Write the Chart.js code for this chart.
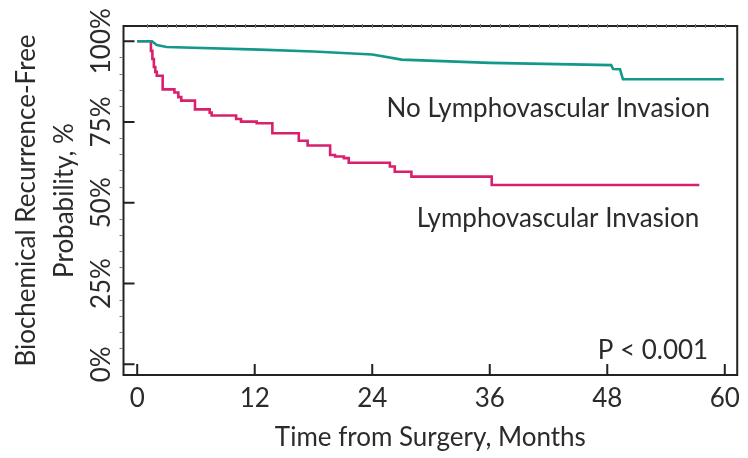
<!DOCTYPE html>
<html lang="en">
<head>
<meta charset="UTF-8">
<title>Biochemical Recurrence-Free Probability</title>
<script src="https://cdn.jsdelivr.net/npm/chart.js"></script>
<style>
  html, body { margin: 0; padding: 0; background: #fff; }
  #wrap { width: 748px; height: 458px; }
</style>
</head>
<body>
<div id="wrap"><canvas id="kmChart" width="748" height="458"></canvas></div>
<script>
// Kaplan-Meier curves, months vs. recurrence-free probability (%)
const noLviMonths = [0, 1.5, 2.0, 3.0, 12.5, 18, 24, 27, 36, 48.4, 48.6, 49.3, 49.6, 59.9];
const noLviSurv   = [100, 100, 98.8, 98.2, 97.4, 96.8, 95.9, 94.3, 93.3, 92.6, 91.4, 91.3, 88.2, 88.2];

const lviMonths = [0, 1.4, 1.55, 1.7, 1.85, 2.0, 2.6, 3.8, 4.2, 4.5, 5.9, 7.4, 7.6, 10.1, 10.6, 12.2,
                   13.8, 16.5, 17.4, 19.7, 20.2, 21.1, 21.6, 25.8, 26.3, 28.0, 36.2, 57.4];
const lviSurv   = [100, 97, 94.5, 92, 90.5, 89.3, 85.1, 84.1, 82.7, 81.6, 78.9, 77.9, 77.0, 75.9, 75.1, 74.6,
                   71.5, 69.2, 67.7, 64.8, 64.3, 63.8, 62.4, 61.2, 59.6, 58.1, 55.5, 55.5];

const xTickValues = [0, 12, 24, 36, 48, 60];
const yTickValues = [0, 25, 50, 75, 100];
const yTickLabels = ['0%', '25%', '50%', '75%', '100%'];

const seriesNames = ['No Lymphovascular Invasion', 'Lymphovascular Invasion'];
const pValueText = 'P < 0.001';

const FONT = 'Lato, "Liberation Sans", sans-serif';
const TEXT = '#2b2b2b';
const TEAL = '#13998a';
const MAGENTA = '#d8206f';

function toPoints(xs, ys) {
  return xs.map((x, i) => ({ x: x, y: ys[i] }));
}

// frame, inward ticks, rotated y labels and curve labels
const figureDecor = {
  id: 'figureDecor',
  beforeDatasetsDraw(chart) {
    const { ctx, chartArea: a, scales: { x, y } } = chart;
    ctx.save();
    ctx.strokeStyle = '#222';
    ctx.lineWidth = 2;
    ctx.strokeRect(a.left, a.top, a.right - a.left, a.bottom - a.top);

    // major ticks pointing inward
    ctx.beginPath();
    xTickValues.forEach(v => {
      const px = x.getPixelForValue(v);
      ctx.moveTo(px, a.bottom);
      ctx.lineTo(px, a.bottom - 11);
    });
    yTickValues.forEach(v => {
      const py = y.getPixelForValue(v);
      ctx.moveTo(a.left, py);
      ctx.lineTo(a.left + 11, py);
    });
    ctx.stroke();

    // faint minor ticks
    ctx.lineWidth = 1;
    ctx.strokeStyle = '#777';
    ctx.beginPath();
    for (let v = 5; v < 100; v += 5) {
      if (v % 25 === 0) continue;
      const py = Math.round(y.getPixelForValue(v)) + 0.5;
      ctx.moveTo(a.left - 4, py);
      ctx.lineTo(a.left - 1, py);
    }
    for (let m = 1; m < 61; m++) {
      const px = Math.round(x.getPixelForValue(m)) + 0.5;
      ctx.moveTo(px, a.top - 2);
      ctx.lineTo(px, a.top + 2);
    }
    ctx.stroke();
    ctx.restore();
  },
  afterDraw(chart) {
    const { ctx, chartArea: a, scales: { x, y } } = chart;
    ctx.save();
    ctx.fillStyle = TEXT;
    ctx.font = '26px ' + FONT;
    ctx.textBaseline = 'middle';
    ctx.textAlign = 'center';

    // y tick labels, rotated like the original
    yTickValues.forEach((v, i) => {
      ctx.save();
      ctx.translate(102, y.getPixelForValue(v));
      ctx.rotate(-Math.PI / 2);
      ctx.fillText(yTickLabels[i], 0, 0);
      ctx.restore();
    });

    // curve labels and p value
    ctx.textAlign = 'right';
    ctx.textBaseline = 'alphabetic';
    ctx.fillText(seriesNames[0], x.getPixelForValue(58.5), y.getPixelForValue(76.6));
    ctx.fillText(seriesNames[1], x.getPixelForValue(57.4), y.getPixelForValue(42.4));
    ctx.fillText(pValueText, x.getPixelForValue(58.3), y.getPixelForValue(1.6));
    ctx.restore();
  }
};

new Chart(document.getElementById('kmChart'), {
  type: 'line',
  data: {
    datasets: [
      {
        label: seriesNames[0],
        data: toPoints(noLviMonths, noLviSurv),
        borderColor: TEAL,
        borderWidth: 2.6,
        pointRadius: 0,
        tension: 0
      },
      {
        label: seriesNames[1],
        data: toPoints(lviMonths, lviSurv),
        borderColor: MAGENTA,
        borderWidth: 2.6,
        pointRadius: 0,
        stepped: 'before'
      }
    ]
  },
  options: {
    responsive: false,
    animation: false,
    layout: { padding: { left: 0, right: 6.5, top: 26, bottom: 0 } },
    plugins: {
      legend: { display: false },
      tooltip: { enabled: false }
    },
    scales: {
      x: {
        type: 'linear',
        min: -1.4,
        max: 61.27,
        afterBuildTicks: s => { s.ticks = xTickValues.map(v => ({ value: v })); },
        afterFit: s => { s.height = 83; },
        grid: { display: false, drawTicks: false },
        border: { display: false },
        ticks: {
          color: TEXT,
          font: { family: FONT, size: 26 },
          padding: 8,
          maxRotation: 0
        },
        title: {
          display: true,
          text: 'Time from Surgery, Months',
          color: TEXT,
          font: { family: FONT, size: 26 },
          padding: { top: 0, bottom: 5 }
        }
      },
      y: {
        min: -3.3,
        max: 104.7,
        afterBuildTicks: s => { s.ticks = yTickValues.map(v => ({ value: v })); },
        afterFit: s => { s.width = 123.5; },
        grid: { display: false, drawTicks: false },
        border: { display: false },
        ticks: { display: false },
        title: {
          display: true,
          text: ['Biochemical Recurrence-Free', 'Probability, %'],
          color: TEXT,
          font: { family: FONT, size: 26, lineHeight: 1.45 },
          padding: { top: 8, bottom: 0 }
        }
      }
    }
  },
  plugins: [figureDecor]
});
</script>
</body>
</html>
